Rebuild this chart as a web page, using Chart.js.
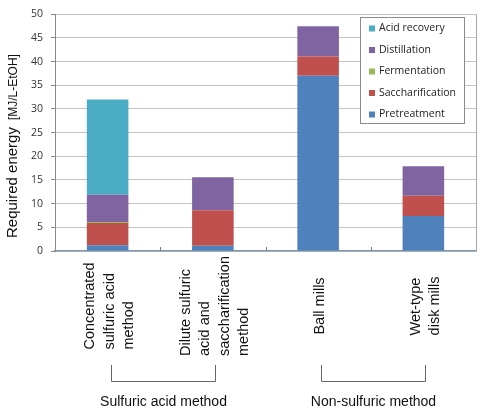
<!DOCTYPE html>
<html lang="en">
<head>
<meta charset="UTF-8">
<title>Required energy</title>
<script src="https://cdn.jsdelivr.net/npm/chart.js"></script>
<style>
  html, body { margin: 0; padding: 0; background: #fff; }
</style>
</head>
<body>
<canvas id="myChart" width="480" height="412"></canvas>
<script>
// category labels (one array per category, one entry per text line)
const categories = [
  ['Concentrated', 'sulfuric acid', 'method'],
  ['Dilute sulfuric', 'acid and', 'saccharification', 'method'],
  ['Ball mills'],
  ['Wet-type', 'disk mills']
];
const groups = ['Sulfuric acid method', 'Non-sulfuric method'];

// MJ/L-EtOH, stacked bottom to top
const pretreatment     = [1.2, 1.1, 37.0, 7.4];
const saccharification = [4.7, 7.5, 4.1, 4.25];
const fermentation     = [0.2, 0, 0, 0];
const distillation     = [5.8, 7.0, 6.4, 6.25];
const acidRecovery     = [20.1, 0, 0, 0];

const yTicks = [0, 5, 10, 15, 20, 25, 30, 35, 40, 45, 50];

// extra drawing: rotated category labels, brackets, axis title, legend box
const decorPlugin = {
  id: 'decor',
  afterDraw: (chart) => {
    const ctx = chart.ctx;
    const xs = chart.scales.x;
    const area = chart.chartArea;
    ctx.save();

    // right border of plot area
    ctx.strokeStyle = '#a6a6a6';
    ctx.lineWidth = 1;
    ctx.beginPath();
    ctx.moveTo(area.right + 0.5, area.top);
    ctx.lineTo(area.right + 0.5, area.bottom);
    ctx.stroke();

    // small tick marks between categories
    ctx.strokeStyle = '#7f7f7f';
    for (let i = 0; i < categories.length - 1; i++) {
      const x = Math.round((xs.getPixelForValue(i) + xs.getPixelForValue(i + 1)) / 2) + 0.5;
      ctx.beginPath();
      ctx.moveTo(x, area.bottom - 4);
      ctx.lineTo(x, area.bottom);
      ctx.stroke();
    }

    // category labels, rotated
    ctx.fillStyle = '#111';
    ctx.font = '14.5px "Liberation Sans", Arial, sans-serif';
    categories.forEach((lines, i) => {
      const cx = xs.getPixelForValue(i) + 2;
      const maxW = Math.max(...lines.map(l => ctx.measureText(l).width));
      const startY = 306 + maxW / 2;
      const lh = 19.5;
      lines.forEach((line, j) => {
        const x = cx + (j - (lines.length - 1) / 2) * lh;
        ctx.save();
        ctx.translate(x, startY);
        ctx.rotate(-Math.PI / 2);
        ctx.textAlign = 'left';
        ctx.textBaseline = 'middle';
        ctx.fillText(line, 0, 0);
        ctx.restore();
      });
    });

    // brackets + group labels
    ctx.strokeStyle = '#666';
    ctx.lineWidth = 1;
    ctx.font = '14px "Liberation Sans", Arial, sans-serif';
    ctx.textAlign = 'center';
    ctx.textBaseline = 'middle';
    groups.forEach((g, k) => {
      const x1 = Math.round(xs.getPixelForValue(k * 2) + 3) + 0.5;
      const x2 = Math.round(xs.getPixelForValue(k * 2 + 1) + 2) + 0.5;
      ctx.beginPath();
      ctx.moveTo(x1, 365);
      ctx.lineTo(x1, 381.5);
      ctx.lineTo(x2, 381.5);
      ctx.lineTo(x2, 365);
      ctx.stroke();
      ctx.fillText(g, (x1 + x2) / 2, 402);
    });

    // y axis title with mixed sizes
    ctx.save();
    ctx.translate(17, 238);
    ctx.rotate(-Math.PI / 2);
    ctx.textAlign = 'left';
    ctx.textBaseline = 'alphabetic';
    ctx.fillStyle = '#111';
    ctx.font = '15px "Liberation Sans", Arial, sans-serif';
    const t1 = 'Required energy';
    ctx.fillText(t1, 0, 0);
    const w1 = ctx.measureText(t1).width;
    ctx.font = '12px "Liberation Sans", Arial, sans-serif';
    ctx.fillText('[MJ/L-EtOH]', w1 + 7, 0);
    ctx.restore();

    // legend box
    const lx = 360.5, ly = 17.5, lw = 104, lh = 106;
    ctx.fillStyle = '#fff';
    ctx.fillRect(lx, ly, lw, lh);
    ctx.strokeStyle = '#8c8c8c';
    ctx.strokeRect(lx, ly, lw, lh);
    ctx.font = '10.5px "Open Sans", sans-serif';
    ctx.textAlign = 'left';
    ctx.textBaseline = 'middle';
    const items = chart.data.datasets.slice().reverse();
    items.forEach((ds, j) => {
      const y = 28.5 + j * 21.5;
      ctx.fillStyle = ds.backgroundColor;
      ctx.fillRect(369, y - 3, 6, 6);
      ctx.fillStyle = '#222';
      ctx.fillText(ds.label, 379, y);
    });

    ctx.restore();
  }
};

const ctx = document.getElementById('myChart').getContext('2d');
new Chart(ctx, {
  type: 'bar',
  data: {
    labels: categories.map(c => c.join(' ')),
    datasets: [
      { label: 'Pretreatment', data: pretreatment, backgroundColor: '#4f81bd' },
      { label: 'Saccharification', data: saccharification, backgroundColor: '#c0504d' },
      { label: 'Fermentation', data: fermentation, backgroundColor: '#9bbb59' },
      { label: 'Distillation', data: distillation, backgroundColor: '#8064a2' },
      { label: 'Acid recovery', data: acidRecovery, backgroundColor: '#4bacc6' }
    ]
  },
  options: {
    responsive: false,
    devicePixelRatio: 1,
    animation: false,
    layout: { padding: { top: 8, right: 4, left: 0, bottom: 0 } },
    datasets: {
      bar: { categoryPercentage: 1.0, barPercentage: 0.395, borderWidth: 0 }
    },
    plugins: {
      legend: { display: false },
      tooltip: { enabled: false }
    },
    scales: {
      x: {
        stacked: true,
        ticks: { display: false },
        grid: { color: 'transparent', drawTicks: false },
        border: { color: '#8497b0', width: 1.5 },
        afterFit: (scale) => { scale.height = 161; }
      },
      y: {
        stacked: true,
        min: 0,
        max: 50,
        afterBuildTicks: (scale) => { scale.ticks = yTicks.map(v => ({ value: v })); },
        ticks: {
          color: '#333',
          padding: 8,
          font: { family: '"Open Sans", sans-serif', size: 10.5 }
        },
        grid: { color: '#c4c4c4', tickLength: 4, tickColor: '#888' },
        border: { color: '#888' },
        afterFit: (scale) => { scale.width = 55; }
      }
    }
  },
  plugins: [decorPlugin]
});
</script>
</body>
</html>
